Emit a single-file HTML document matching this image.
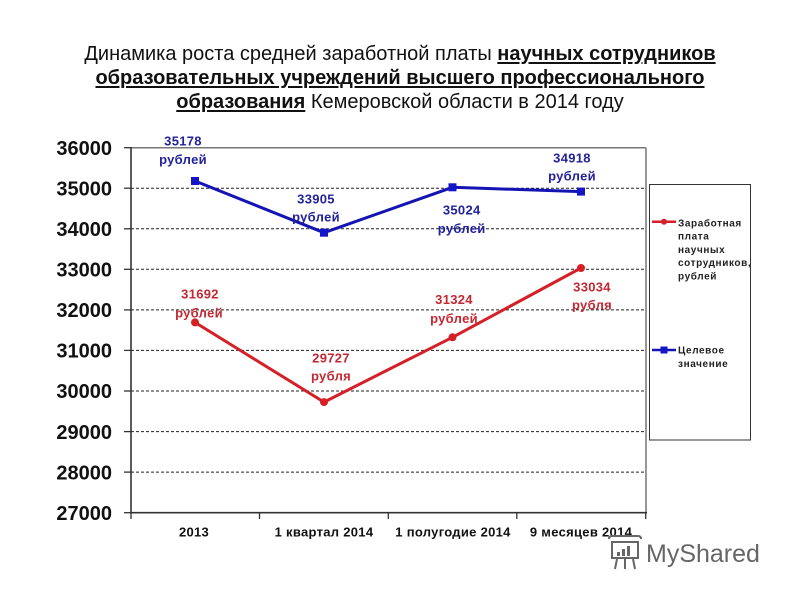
<!DOCTYPE html>
<html>
<head>
<meta charset="utf-8">
<style>
  html, body { margin:0; padding:0; background:#fff; }
  body { width:800px; height:600px; position:relative; overflow:hidden; font-family:"Liberation Sans", "Noto Sans CJK SC", sans-serif; }
  .title { position:absolute; left:0; top:42px; width:800px; text-align:center; font-size:20px; line-height:24px; color:#111; }
  .title b { text-decoration:underline; text-decoration-thickness:2px; text-underline-offset:2px; }
  svg { position:absolute; left:0; top:0; }
</style>
</head>
<body>
<div class="title">Динамика роста средней заработной платы <b>научных сотрудников</b><br><b>образовательных учреждений высшего профессионального</b><br><b>образования</b> Кемеровской области в 2014 году</div>

<svg width="800" height="600" viewBox="0 0 800 600" xmlns="http://www.w3.org/2000/svg" font-family="Liberation Sans, sans-serif">
  <!-- gridlines -->
  <g stroke="#222" stroke-width="1" stroke-dasharray="3,2">
    <line x1="131" y1="188.2" x2="646" y2="188.2"/>
    <line x1="131" y1="228.8" x2="646" y2="228.8"/>
    <line x1="131" y1="269.3" x2="646" y2="269.3"/>
    <line x1="131" y1="309.9" x2="646" y2="309.9"/>
    <line x1="131" y1="350.4" x2="646" y2="350.4"/>
    <line x1="131" y1="391.0" x2="646" y2="391.0"/>
    <line x1="131" y1="431.6" x2="646" y2="431.6"/>
    <line x1="131" y1="472.1" x2="646" y2="472.1"/>
  </g>
  <!-- plot border top/right -->
  <line x1="131" y1="147.7" x2="646" y2="147.7" stroke="#777" stroke-width="1.5"/>
  <line x1="646" y1="147.7" x2="646" y2="512.7" stroke="#777" stroke-width="1.5"/>
  <!-- axes -->
  <line x1="131" y1="147" x2="131" y2="513" stroke="#333" stroke-width="1.6"/>
  <line x1="130" y1="512.7" x2="647" y2="512.7" stroke="#333" stroke-width="1.6"/>
  <!-- y ticks -->
  <g stroke="#333" stroke-width="1.3">
    <line x1="124" y1="147.7" x2="131" y2="147.7"/>
    <line x1="124" y1="188.2" x2="131" y2="188.2"/>
    <line x1="124" y1="228.8" x2="131" y2="228.8"/>
    <line x1="124" y1="269.3" x2="131" y2="269.3"/>
    <line x1="124" y1="309.9" x2="131" y2="309.9"/>
    <line x1="124" y1="350.4" x2="131" y2="350.4"/>
    <line x1="124" y1="391.0" x2="131" y2="391.0"/>
    <line x1="124" y1="431.6" x2="131" y2="431.6"/>
    <line x1="124" y1="472.1" x2="131" y2="472.1"/>
    <line x1="124" y1="512.7" x2="131" y2="512.7"/>
    <!-- x ticks -->
    <line x1="131" y1="512.7" x2="131" y2="519"/>
    <line x1="259.5" y1="512.7" x2="259.5" y2="519"/>
    <line x1="388.3" y1="512.7" x2="388.3" y2="519"/>
    <line x1="516.8" y1="512.7" x2="516.8" y2="519"/>
    <line x1="645.7" y1="512.7" x2="645.7" y2="519"/>
  </g>
  <!-- y labels -->
  <g font-size="20" font-weight="bold" fill="#111" text-anchor="end">
    <text x="112" y="154.9">36000</text>
    <text x="112" y="195.4">35000</text>
    <text x="112" y="236.0">34000</text>
    <text x="112" y="276.5">33000</text>
    <text x="112" y="317.1">32000</text>
    <text x="112" y="357.6">31000</text>
    <text x="112" y="398.2">30000</text>
    <text x="112" y="438.8">29000</text>
    <text x="112" y="479.3">28000</text>
    <text x="112" y="519.9">27000</text>
  </g>
  <!-- x labels -->
  <g font-size="13" font-weight="bold" fill="#111" text-anchor="middle" letter-spacing="0.3">
    <text x="194" y="536.5">2013</text>
    <text x="324" y="536.5">1 квартал 2014</text>
    <text x="453" y="536.5">1 полугодие 2014</text>
    <text x="581" y="536.5">9 месяцев 2014</text>
  </g>

  <!-- blue series -->
  <polyline points="195,181 324,232.7 452.5,187.3 581,191.6" fill="none" stroke="#1414b4" stroke-width="3" stroke-linejoin="round"/>
  <g fill="#1414c8">
    <rect x="191" y="177" width="8" height="8"/>
    <rect x="320" y="228.7" width="8" height="8"/>
    <rect x="448.5" y="183.3" width="8" height="8"/>
    <rect x="577" y="187.6" width="8" height="8"/>
  </g>
  <!-- red series -->
  <polyline points="195,322.4 324,402.1 452.5,337.3 581,268" fill="none" stroke="#d42026" stroke-width="3" stroke-linejoin="round"/>
  <g fill="#d42026">
    <circle cx="195" cy="322.4" r="4"/>
    <circle cx="324" cy="402.1" r="4"/>
    <circle cx="452.5" cy="337.3" r="4"/>
    <circle cx="581" cy="268" r="4"/>
  </g>

  <!-- blue labels -->
  <g font-size="13" font-weight="bold" fill="#22229c" text-anchor="middle" letter-spacing="0.3">
    <text x="183" y="145.5">35178</text>
    <text x="183" y="164">рублей</text>
    <text x="316" y="203.7">33905</text>
    <text x="316" y="221.4">рублей</text>
    <text x="461.7" y="214.7">35024</text>
    <text x="461.7" y="233">рублей</text>
    <text x="572" y="162.4">34918</text>
    <text x="572" y="180.7">рублей</text>
  </g>
  <!-- red labels -->
  <g font-size="13" font-weight="bold" fill="#c42832" text-anchor="middle" letter-spacing="0.3">
    <text x="200" y="298.7">31692</text>
    <text x="199" y="317.4">рублей</text>
    <text x="331" y="362.4">29727</text>
    <text x="331" y="380.7">рубля</text>
    <text x="454" y="304">31324</text>
    <text x="454" y="323">рублей</text>
    <text x="592" y="291.4">33034</text>
    <text x="592" y="309.7">рубля</text>
  </g>

  <!-- legend -->
  <rect x="649.5" y="184.5" width="101" height="255.5" fill="#fff" stroke="#333" stroke-width="1"/>
  <line x1="652" y1="221.7" x2="676" y2="221.7" stroke="#d42026" stroke-width="2.5"/>
  <circle cx="664" cy="221.7" r="3" fill="#d42026"/>
  <line x1="652" y1="350" x2="676" y2="350" stroke="#1414b4" stroke-width="2.5"/>
  <rect x="660.5" y="346.5" width="7" height="7" fill="#1414c8"/>
  <g font-size="10" font-weight="bold" fill="#222" letter-spacing="0.6">
    <text x="678" y="226.3">Заработная</text>
    <text x="678" y="239.6">плата</text>
    <text x="678" y="252.9">научных</text>
    <text x="678" y="266.2">сотрудников,</text>
    <text x="678" y="279.5">рублей</text>
    <text x="678" y="353.6">Целевое</text>
    <text x="678" y="366.9">значение</text>
  </g>

  <!-- watermark -->
  <g stroke="#666" stroke-width="2" fill="none">
    <path d="M612,542 h26 v16 h-26 z"/>
    <path d="M609,539 q0,-3 3,-3 h26 q3,0 3,3"/>
    <line x1="617" y1="559" x2="615" y2="569"/>
    <line x1="625" y1="559" x2="625" y2="569"/>
    <line x1="633" y1="559" x2="635" y2="569"/>
  </g>
  <g fill="#666">
    <rect x="617" y="552" width="3" height="4"/>
    <rect x="622" y="549" width="3" height="7"/>
    <rect x="627" y="546" width="3" height="10"/>
  </g>
  <text x="646" y="562" font-size="25" fill="#666">MyShared</text>
</svg>
</body>
</html>
